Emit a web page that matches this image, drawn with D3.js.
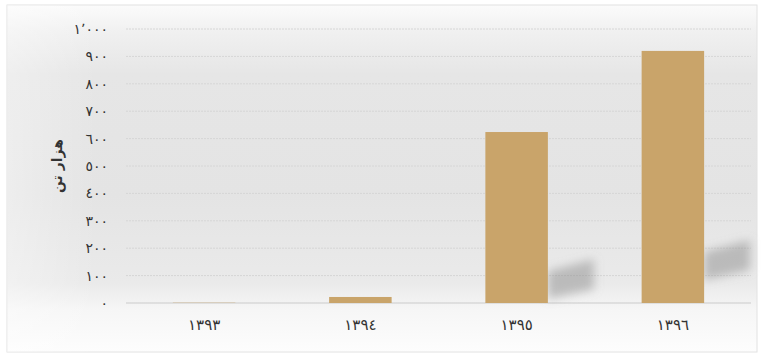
<!DOCTYPE html>
<html>
<head>
<meta charset="utf-8">
<script src="https://cdn.jsdelivr.net/npm/d3@7"></script>
<style>
  html, body { margin: 0; padding: 0; background: #ffffff; }
  svg { display: block; }
  text { font-family: "DejaVu Sans", "Noto Sans", sans-serif; }
</style>
</head>
<body>
<svg id="chart" width="764" height="355"></svg>
<script>
// Years (Solar Hijri) and output in thousand tonnes
const years = ["١٣٩٣", "١٣٩٤", "١٣٩٥", "١٣٩٦"];
const values = [1, 22, 624, 920];
const tickValues = [0, 100, 200, 300, 400, 500, 600, 700, 800, 900, 1000];
const tickLabels = ["٠", "١٠٠", "٢٠٠", "٣٠٠", "٤٠٠", "٥٠٠", "٦٠٠", "٧٠٠", "٨٠٠", "٩٠٠", "١٬٠٠٠"];
const axisTitle = "هزار تن";

const W = 764, H = 355;
const margin = { left: 126, right: 13, top: 29, bottom: 52 };
const svg = d3.select("#chart");

// Panel background
const defs = svg.append("defs");
const bg = defs.append("linearGradient").attr("id", "bg")
  .attr("x1", 0).attr("y1", 0).attr("x2", 0).attr("y2", 1);
[[0, "#fbfbfb"], [0.08, "#f0f0f0"], [0.2, "#e6e6e6"], [0.55, "#e4e4e4"], [0.8, "#eaeaea"], [0.88, "#f6f6f6"], [1, "#fdfdfd"]]
  .forEach(([o, c]) => bg.append("stop").attr("offset", o).attr("stop-color", c));
const side = defs.append("linearGradient").attr("id", "side")
  .attr("x1", 0).attr("y1", 0).attr("x2", 1).attr("y2", 0);
[[0, "#ffffff", 0.35], [0.12, "#ffffff", 0], [1, "#ffffff", 0]]
  .forEach(([o, c, a]) => side.append("stop").attr("offset", o).attr("stop-color", c).attr("stop-opacity", a));
defs.append("filter").attr("id", "soft").attr("x", "-50%").attr("y", "-50%").attr("width", "200%").attr("height", "200%")
  .append("feGaussianBlur").attr("stdDeviation", 5);

svg.append("rect").attr("x", 7).attr("y", 5).attr("width", 750).attr("height", 347)
  .attr("fill", "url(#bg)").attr("stroke", "#e2e2e2").attr("stroke-width", 1);
svg.append("rect").attr("x", 7).attr("y", 5).attr("width", 750).attr("height", 347)
  .attr("fill", "url(#side)");

const x = d3.scaleBand().domain(years)
  .range([margin.left, W - margin.right]).paddingInner(0.6).paddingOuter(0.3);
const y = d3.scaleLinear().domain([0, 1000]).range([H - margin.bottom, margin.top]);

// Gridlines
const grid = svg.append("g").attr("class", "grid");
grid.selectAll("line").data(tickValues.filter(v => v > 0)).join("line")
  .attr("x1", margin.left).attr("x2", W - margin.right)
  .attr("y1", d => y(d)).attr("y2", d => y(d))
  .attr("stroke", "#d6d6d6").attr("stroke-width", 1).attr("stroke-dasharray", "2,1");
grid.append("line")
  .attr("x1", margin.left).attr("x2", W - margin.right)
  .attr("y1", y(0)).attr("y2", y(0))
  .attr("stroke", "#cbcbcb").attr("stroke-width", 1);

// Soft cast shadows behind the taller bars
svg.append("g").attr("filter", "url(#soft)")
  .selectAll("path").data(years.map((k, i) => ({ k, v: values[i] })).filter(d => d.v > 300)).join("path")
  .attr("d", d => {
    const x0 = x(d.k) + x.bandwidth();
    const top = y(d.v > 800 ? 230 : 160);
    return `M${x0},${top + 12} L${x0 + 46},${top} L${x0 + 46},${top + 30} L${x0},${top + 40} Z`;
  })
  .attr("fill", "#8e8e8e").attr("opacity", 0.5);

// Bars
svg.append("g").selectAll("rect").data(years.map((k, i) => ({ k, v: values[i] }))).join("rect")
  .attr("x", d => x(d.k)).attr("width", x.bandwidth())
  .attr("y", d => y(d.v)).attr("height", d => y(0) - y(d.v))
  .attr("fill", "#c9a46a");

// Y axis
const yAxis = d3.axisLeft(y).tickValues(tickValues)
  .tickFormat((d, i) => tickLabels[i]).tickSize(0).tickPadding(18);
const ya = svg.append("g").attr("transform", `translate(${margin.left},0)`).call(yAxis);
ya.select(".domain").remove();
ya.selectAll("text").attr("font-size", 14).attr("fill", "#333333");

// X axis
const xAxis = d3.axisBottom(x).tickSize(0).tickPadding(16);
const xa = svg.append("g").attr("transform", `translate(0,${y(0)})`).call(xAxis);
xa.select(".domain").remove();
xa.selectAll("text").attr("font-size", 15).attr("fill", "#333333");

// Axis title
svg.append("text")
  .attr("transform", `translate(62,${(margin.top + H - margin.bottom) / 2}) rotate(-90)`)
  .attr("text-anchor", "middle").attr("font-size", 14).attr("font-weight", "bold").attr("fill", "#333333")
  .text(axisTitle);
</script>
</body>
</html>
